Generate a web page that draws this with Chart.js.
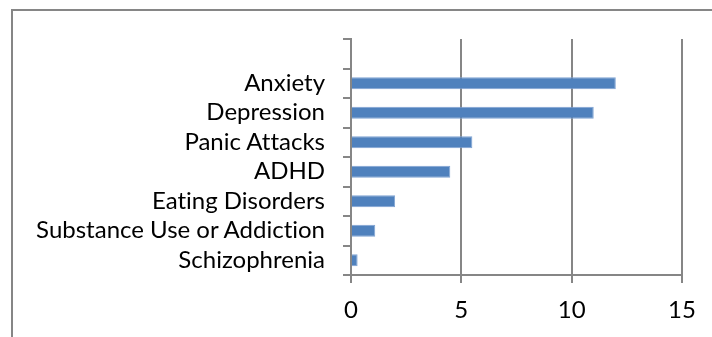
<!DOCTYPE html>
<html>
<head>
<meta charset="utf-8">
<script src="https://cdn.jsdelivr.net/npm/chart.js@4"></script>
<style>
  html, body { margin: 0; padding: 0; background: #fff; }
  #wrap { position: absolute; left: 0; top: 0; width: 712px; height: 337px; }
  #frame { position: absolute; left: 11px; top: 9px; width: 720px; height: 340px;
           border-left: 2px solid #868686; border-top: 2px solid #868686; }
  canvas { position: absolute; left: 0; top: 0; }
</style>
</head>
<body>
<div id="wrap">
  <div id="frame"></div>
  <canvas id="c" width="712" height="337"></canvas>
</div>
<script>
const categories = ['', 'Anxiety', 'Depression', 'Panic Attacks', 'ADHD', 'Eating Disorders', 'Substance Use or Addiction', 'Schizophrenia'];
const values = [null, 12, 11, 5.5, 4.5, 2, 1.1, 0.3];
const xTicks = [0, 5, 10, 15];

const FONT = { family: 'Lato, "Open Sans", sans-serif', size: 24 };
const GRID = '#868686';

const noLigatures = {
  id: 'noLigatures',
  beforeDraw(chart) {
    const ctx = chart.ctx;
    if ('textRendering' in ctx) ctx.textRendering = 'optimizeSpeed';
    if ('fontKerning' in ctx) ctx.fontKerning = 'normal';
  }
};

new Chart(document.getElementById('c'), {
  type: 'bar',
  data: {
    labels: categories,
    datasets: [{
      data: values,
      backgroundColor: '#4F81BD',
      borderColor: '#7FA3D3',
      borderWidth: 1,
      barPercentage: 0.8,
      categoryPercentage: 0.5
    }]
  },
  plugins: [noLigatures],
  options: {
    indexAxis: 'y',
    responsive: false,
    animation: false,
    devicePixelRatio: 1,
    layout: { padding: { top: 39, right: 30, left: 0, bottom: 0 } },
    plugins: { legend: { display: false }, tooltip: { enabled: false } },
    scales: {
      x: {
        min: 0, max: 15,
        afterBuildTicks: (s) => { s.ticks = xTicks.map(v => ({ value: v })); },
        afterFit: (s) => { s.height = 62; },
        grid: { color: GRID, lineWidth: 2, tickLength: 8, drawTicks: true },
        border: { color: GRID, width: 2 },
        ticks: { color: '#000', font: FONT, padding: 13 }
      },
      y: {
        afterFit: (s) => { s.width = 351; },
        grid: { color: GRID, lineWidth: 2, drawOnChartArea: false, tickLength: 8, offset: true },
        border: { color: GRID, width: 2 },
        ticks: { color: '#000', font: FONT, padding: 18, autoSkip: false }
      }
    }
  }
});
</script>
</body>
</html>
